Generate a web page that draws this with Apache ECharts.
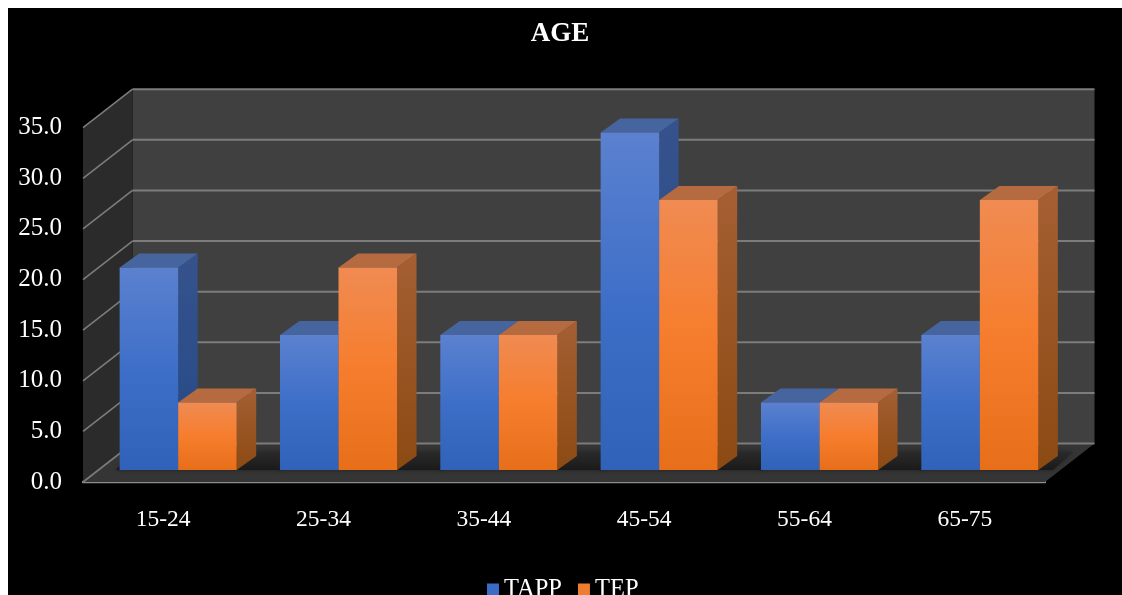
<!DOCTYPE html>
<html>
<head>
<meta charset="utf-8">
<style>
html,body{margin:0;padding:0;background:#fff;width:1122px;height:595px;overflow:hidden}
#chart{position:absolute;left:8px;top:8px;width:1130px;height:600px;background:#000;filter:blur(0.7px)}
</style>
<script src="https://cdn.jsdelivr.net/npm/echarts@6/dist/echarts.min.js"></script>
</head>
<body>
<div id="chart"></div>
<script>
const categories = ['15-24', '25-34', '35-44', '45-54', '55-64', '65-75'];
const tappValues = [20.0, 13.33, 13.33, 33.33, 6.67, 13.33];
const tepValues = [6.67, 20.0, 13.33, 26.67, 6.67, 26.67];
const yTicks = [0, 5, 10, 15, 20, 25, 30, 35];

const FONT = '"Liberation Serif","Times New Roman",serif';
const DEPTH = [49.5, -38.5];
const BAR = {shift: 15, widthRatio: 0.365, rise: 12, dx: 19.5, dy: -14};
const grad = (...c) => new echarts.graphic.LinearGradient(0, 0, 0, 1, c.map((color, i) => ({offset: i / (c.length - 1), color})));

function poly(points, style, z2) {
  return {type: 'polygon', shape: {points}, style, z2: z2 || 0};
}
function line(a, b, color, width) {
  return {type: 'line', shape: {x1: a[0], y1: a[1], x2: b[0], y2: b[1]}, style: {stroke: color, lineWidth: width}};
}

function wallsItem(params, api) {
  const cs = params.coordSys;
  const L = cs.x, R = cs.x + cs.width;
  const y0 = api.coord([0, 0])[1], yMax = api.coord([0, 35])[1];
  const bx = DEPTH[0], by = DEPTH[1];
  return {type: 'group', children: [
    poly([[L + bx, yMax + by], [R + bx, yMax + by], [R + bx, y0 + by], [L + bx, y0 + by]], {fill: '#404040'}),
    poly([[L, yMax], [L + bx, yMax + by], [L + bx, y0 + by], [L, y0]], {fill: '#2b2b2b'}),
    poly([[L, y0], [R, y0], [R + bx, y0 + by], [L + bx, y0 + by]], {fill: '#353535'})
  ]};
}

function gridItem(params, api) {
  const cs = params.coordSys;
  const L = cs.x, R = cs.x + cs.width;
  const y = api.coord([0, api.value(0)])[1];
  const bx = DEPTH[0], by = DEPTH[1];
  return {type: 'group', children: [
    line([L, y], [L + bx, y + by], '#7c7c7c', 1.6),
    line([L + bx, y + by], [R + bx, y + by], '#7c7c7c', 2)
  ]};
}

function shadowItem(params, api) {
  const cs = params.coordSys;
  const p = api.coord([api.value(0), 0]);
  const band = api.size([1, 0])[0];
  const w = band * BAR.widthRatio;
  const cx = p[0] + BAR.shift;
  const yb = p[1] - BAR.rise;
  const l = cx - w - 4, r = Math.min(cx + w + 44, cs.x + cs.width + 8);
  return poly(
    [[l, yb], [r, yb], [r + BAR.dx, yb + BAR.dy - 4], [l + BAR.dx, yb + BAR.dy - 4]],
    {fill: grad('#2a2a2a', '#1a1a1a'), shadowBlur: 5, shadowColor: 'rgba(25,25,25,0.7)'}
  );
}

function barItem(side, colors) {
  return function (params, api) {
    const cat = api.value(0);
    const base = api.coord([cat, 0]);
    const top = api.coord([cat, api.value(1)]);
    const band = api.size([1, 0])[0];
    const w = band * BAR.widthRatio;
    const cx = base[0] + BAR.shift;
    const x0 = side === 0 ? cx - w : cx;
    const x1 = x0 + w;
    const yb = base[1] - BAR.rise;
    const yt = top[1] - BAR.rise;
    const dx = BAR.dx, dy = BAR.dy;
    return {type: 'group', children: [
      poly([[x1, yt], [x1 + dx, yt + dy], [x1 + dx, yb + dy], [x1, yb]], {fill: grad(colors.sideTop, colors.sideBottom)}),
      poly([[x0, yt], [x0 + dx, yt + dy], [x1 + dx, yt + dy], [x1, yt]], {fill: colors.cap}),
      poly([[x0, yt], [x1, yt], [x1, yb], [x0, yb]], {fill: grad(colors.top, colors.mid, colors.bottom)})
    ]};
  };
}

const blue = {top: '#5b81cf', mid: '#3e6fc8', bottom: '#2f62b8', sideTop: '#36528c', sideBottom: '#234a87', cap: '#46659f'};
const orange = {top: '#f08b52', mid: '#f67d2d', bottom: '#e76f1a', sideTop: '#a55f33', sideBottom: '#8c4a13', cap: '#b56a40'};

const chart = echarts.init(document.getElementById('chart'), null, {renderer: 'canvas'});
chart.setOption({
  backgroundColor: '#000',
  animation: false,
  title: {
    text: 'AGE', left: 547, top: 8, textAlign: 'center',
    textStyle: {color: '#fff', fontFamily: FONT, fontWeight: 'bold', fontSize: 27}
  },
  legend: {
    data: ['TAPP', 'TEP'], left: 474, top: 564, itemWidth: 12, itemHeight: 12, itemGap: 16, icon: 'rect',
    textStyle: {color: '#fff', fontFamily: FONT, fontSize: 24.5, padding: [0, 0, 0, 0]}
  },
  grid: {left: 75, right: 93, top: 119.7, bottom: 126},
  xAxis: {
    type: 'category', data: categories,
    axisLine: {show: true, lineStyle: {color: '#8c8c8c', width: 2.4}},
    axisTick: {show: false}, splitLine: {show: false},
    axisLabel: {color: '#fff', fontFamily: FONT, fontSize: 23.5, margin: 26}
  },
  yAxis: {
    type: 'value', min: 0, max: 35, interval: 5,
    axisLine: {show: false}, axisTick: {show: false}, splitLine: {show: false},
    axisLabel: {color: '#fff', fontFamily: FONT, fontSize: 25, margin: 21, formatter: v => v.toFixed(1)}
  },
  series: [
    {type: 'custom', name: 'walls', data: [[0]], renderItem: wallsItem, silent: true, z: 1},
    {type: 'custom', name: 'gridlines', data: yTicks.map(v => [v]), encode: {y: 0}, renderItem: gridItem, silent: true, z: 2},
    {type: 'custom', name: 'shadow', data: categories.map((c, i) => [i]), encode: {x: 0}, renderItem: shadowItem, silent: true, z: 3},
    {type: 'custom', name: 'TAPP', data: tappValues.map((v, i) => [i, v]), encode: {x: 0, y: 1}, renderItem: barItem(0, blue), itemStyle: {color: '#3a6cc4'}, z: 4},
    {type: 'custom', name: 'TEP', data: tepValues.map((v, i) => [i, v]), encode: {x: 0, y: 1}, renderItem: barItem(1, orange), itemStyle: {color: '#ed7d31'}, z: 5}
  ]
});
</script>
</body>
</html>
